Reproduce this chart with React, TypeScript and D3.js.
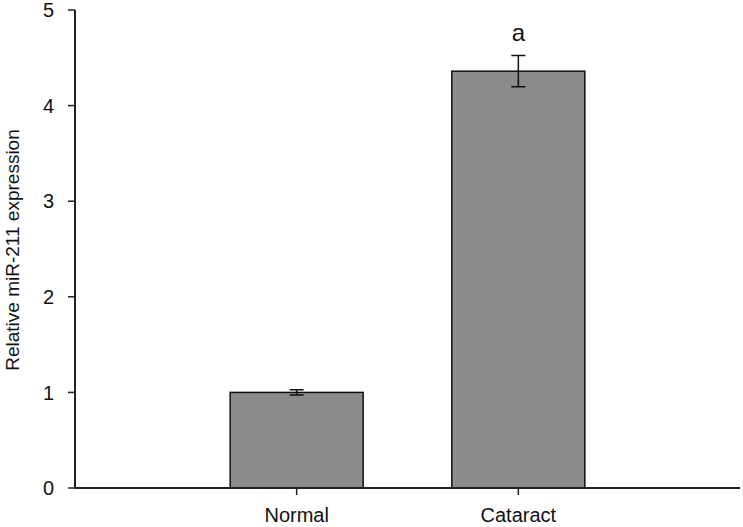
import React, { useEffect, useRef } from 'react';
import * as d3 from 'd3';

const categories = ['Normal', 'Cataract'];
const values = [1.0, 4.36];
const errors = [0.027, 0.163];
const marks = ['', 'a'];
const yTicks = [0, 1, 2, 3, 4, 5];

const App = () => {
  const svgRef = useRef<SVGSVGElement>(null);

  useEffect(() => {
    const width = 743;
    const height = 527;
    const left = 75;
    const right = 740;
    const top = 10;
    const bottom = 488;

    const svg = d3.select(svgRef.current);
    svg.selectAll('*').remove();

    // three equal slots, bars sit at 1/3 and 2/3 of the axis
    const x = d3.scalePoint<string>()
      .domain(['', ...categories, ' '])
      .range([left, right]);
    const y = d3.scaleLinear().domain([0, 5]).range([bottom, top]);
    const barW = 133;

    const g = svg.append('g').style('font-family', 'Liberation Sans, Arial, sans-serif');

    g.selectAll('rect.bar')
      .data(categories)
      .enter()
      .append('rect')
      .attr('class', 'bar')
      .attr('x', d => x(d)! - barW / 2)
      .attr('y', (d, i) => y(values[i]))
      .attr('width', barW)
      .attr('height', (d, i) => bottom - y(values[i]))
      .style('fill', '#8c8c8c')
      .style('stroke', '#111')
      .style('stroke-width', 1.5);

    // error bars
    categories.forEach((c, i) => {
      const cx = x(c)!;
      const hi = y(values[i] + errors[i]);
      const lo = y(values[i] - errors[i]);
      const cap = 7;
      const path = `M${cx},${hi}V${lo}M${cx - cap},${hi}H${cx + cap}M${cx - cap},${lo}H${cx + cap}`;
      g.append('path').attr('d', path).style('stroke', '#111').style('stroke-width', 1.5).style('fill', 'none');
      if (marks[i]) {
        g.append('text')
          .attr('x', cx)
          .attr('y', hi - 15)
          .attr('text-anchor', 'middle')
          .style('font-size', '24px')
          .style('fill', '#111')
          .text(marks[i]);
      }
    });

    // y axis
    g.append('line')
      .attr('x1', left).attr('x2', left)
      .attr('y1', top).attr('y2', bottom)
      .style('stroke', '#222').style('stroke-width', 2);
    g.selectAll('line.ytick')
      .data(yTicks)
      .enter()
      .append('line')
      .attr('x1', left - 7).attr('x2', left)
      .attr('y1', d => y(d)).attr('y2', d => y(d))
      .style('stroke', '#222').style('stroke-width', 1.5);
    g.selectAll('text.ytick')
      .data(yTicks)
      .enter()
      .append('text')
      .attr('x', left - 21)
      .attr('y', d => y(d))
      .attr('dy', '0.36em')
      .attr('text-anchor', 'end')
      .style('font-size', '20px')
      .style('fill', '#111')
      .text(d => d);

    // x axis
    g.append('line')
      .attr('x1', left).attr('x2', right)
      .attr('y1', bottom).attr('y2', bottom)
      .style('stroke', '#222').style('stroke-width', 2);
    g.selectAll('line.xtick')
      .data(categories)
      .enter()
      .append('line')
      .attr('x1', d => x(d)!).attr('x2', d => x(d)!)
      .attr('y1', bottom).attr('y2', bottom + 7)
      .style('stroke', '#222').style('stroke-width', 1.5);
    g.selectAll('text.xtick')
      .data(categories)
      .enter()
      .append('text')
      .attr('x', d => x(d)!)
      .attr('y', 522)
      .attr('text-anchor', 'middle')
      .style('font-size', '20px')
      .style('fill', '#111')
      .text(d => d);

    g.append('text')
      .attr('transform', `translate(19,250) rotate(-90)`)
      .attr('text-anchor', 'middle')
      .style('font-size', '19px')
      .style('fill', '#111')
      .text('Relative miR-211 expression');

    svg.attr('width', width).attr('height', height);
  }, []);

  return (
    <svg ref={svgRef} style={{ position: 'absolute', left: 0, top: 0, background: '#fff' }}></svg>
  );
};

export default App;
